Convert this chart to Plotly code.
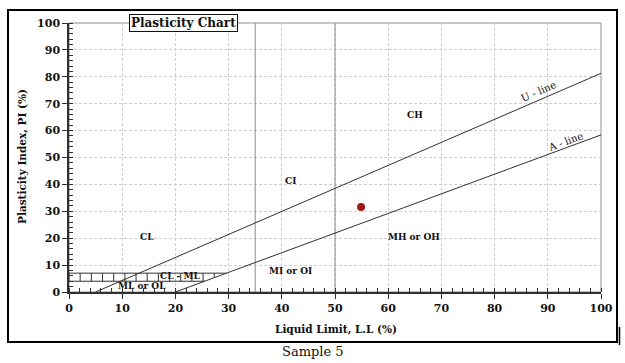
import plotly.graph_objects as go

# ---- data ----
u_line_ll = [5, 100]
u_line_pi = [0, 81.3]
a_line_ll = [20, 100]
a_line_pi = [0, 58.4]
divider_ll = [35, 50]
band_top_ll = [0, 29.6]
band_top_pi = [7, 7]
band_bot_ll = [0, 25.5]
band_bot_pi = [4, 4]
hatch_ll = [0, 2.1, 4.2, 6.3, 8.4, 10.5, 12.6, 14.7, 16.8, 18.9, 21, 23.1, 25.2, 27.3, 29.4]
sample_ll = [54.9]
sample_pi = [31.6]
zone_names = ["CL", "CI", "CH", "MH or OH", "MI or OI", "CL - ML", "ML or OL"]
zone_ll = [14.7, 41.7, 65.0, 64.8, 41.7, 20.8, 13.8]
zone_pi = [20.4, 41.3, 65.8, 20.4, 7.8, 5.9, 2.1]
x_ticks = [0, 10, 20, 30, 40, 50, 60, 70, 80, 90, 100]
y_ticks = [0, 10, 20, 30, 40, 50, 60, 70, 80, 90, 100]

SERIF = "DejaVu Serif"
LINE = "#303030"

fig = go.Figure()

# divider verticals
for v in divider_ll:
    fig.add_trace(go.Scatter(x=[v, v], y=[0, 100], mode="lines",
                             line=dict(color="#8c8c8c", width=1), hoverinfo="skip"))

# hatched CL-ML band
fig.add_trace(go.Scatter(x=band_top_ll, y=band_top_pi, mode="lines",
                         line=dict(color=LINE, width=1), hoverinfo="skip"))
fig.add_trace(go.Scatter(x=band_bot_ll, y=band_bot_pi, mode="lines",
                         line=dict(color=LINE, width=1), hoverinfo="skip"))
hx, hy = [], []
for h in hatch_ll:
    lo = band_bot_pi[0] if h <= band_bot_ll[1] else 0.73 * (h - 20)
    hx += [h, h, None]
    hy += [lo, band_top_pi[0], None]
fig.add_trace(go.Scatter(x=hx, y=hy, mode="lines",
                         line=dict(color=LINE, width=1), hoverinfo="skip"))

# U and A lines
fig.add_trace(go.Scatter(x=u_line_ll, y=u_line_pi, mode="lines",
                         line=dict(color=LINE, width=1)))
fig.add_trace(go.Scatter(x=a_line_ll, y=a_line_pi, mode="lines",
                         line=dict(color=LINE, width=1)))

# sample point
fig.add_trace(go.Scatter(x=sample_ll, y=sample_pi, mode="markers",
                         marker=dict(color="#9e1b1b", size=8)))

for name, lx, ly in zip(zone_names, zone_ll, zone_pi):
    fig.add_annotation(x=lx, y=ly, text=name, showarrow=False,
                       font=dict(family=SERIF, size=9, color="#111", weight="bold"))

fig.add_annotation(x=88.2, y=74.7, text="U - line", showarrow=False, textangle=-23.4,
                   font=dict(family=SERIF, size=10, color="#111"))
fig.add_annotation(x=93.4, y=56.1, text="A - line", showarrow=False, textangle=-20.3,
                   font=dict(family=SERIF, size=10, color="#111"))

# title box
fig.add_annotation(xref="paper", yref="paper", x=(183 - 69) / 532, y=(292 - 23.5) / 269,
                   xanchor="center", yanchor="middle", text="Plasticity Chart",
                   showarrow=False, bgcolor="white", bordercolor="#111", borderwidth=1,
                   borderpad=1, font=dict(family=SERIF, size=12, color="#111", weight="bold"))

# axis titles
fig.add_annotation(xref="paper", yref="paper", x=(336 - 69) / 532, y=(292 - 329) / 269,
                   xanchor="center", yanchor="middle",
                   text="Liquid Limit, L.L (%)", showarrow=False,
                   font=dict(family=SERIF, size=10.5, color="#111", weight="bold"))
fig.add_annotation(xref="paper", yref="paper", x=(22 - 69) / 532, y=(292 - 157) / 269,
                   xanchor="center", yanchor="middle",
                   text="Plasticity Index, PI (%)", showarrow=False, textangle=-90,
                   font=dict(family=SERIF, size=10.5, color="#111", weight="bold"))
fig.add_annotation(xref="paper", yref="paper", x=(313 - 69) / 532, y=(292 - 351) / 269,
                   xanchor="center", yanchor="middle",
                   text="Sample 5", showarrow=False,
                   font=dict(family=SERIF, size=13, color="#111"))

# outer frame and plot box
fig.add_shape(type="rect", xref="paper", yref="paper",
              x0=(8 - 69) / 532, x1=(617 - 69) / 532, y0=(292 - 342) / 269, y1=(292 - 10) / 269,
              line=dict(color="black", width=2))
fig.add_shape(type="line", xref="paper", yref="paper",
              x0=(619.5 - 69) / 532, x1=(619.5 - 69) / 532, y0=(292 - 345) / 269, y1=(292 - 327) / 269,
              line=dict(color="black", width=1.5))
fig.add_shape(type="rect", xref="paper", yref="paper", x0=0, x1=1, y0=0, y1=1,
              line=dict(color="#8c8c8c", width=1), layer="below")

axis_common = dict(
    automargin=False,
    showgrid=True, gridcolor="#cfcfcf", griddash="3px,2px", gridwidth=1,
    zeroline=False, showline=True, linecolor=LINE, linewidth=1.5,
    ticks="outside", ticklen=5, tickcolor=LINE, tickwidth=1,
    minor=dict(ticks="inside", dtick=2, ticklen=4, tickcolor=LINE, showgrid=False),
    tickfont=dict(family=SERIF, size=11, color="#111", weight="bold"),
)
fig.update_xaxes(range=[0, 100], tickvals=x_ticks, **axis_common)
fig.update_yaxes(range=[0, 100], tickvals=y_ticks, **axis_common)

fig.update_layout(
    width=625, height=363, showlegend=False,
    margin=dict(l=69, r=24, t=23, b=71),
    paper_bgcolor="white", plot_bgcolor="white",
)

fig.write_html("out.html", config={"displayModeBar": False},
               post_script="document.body.style.margin='0';document.body.style.overflow='hidden';")
